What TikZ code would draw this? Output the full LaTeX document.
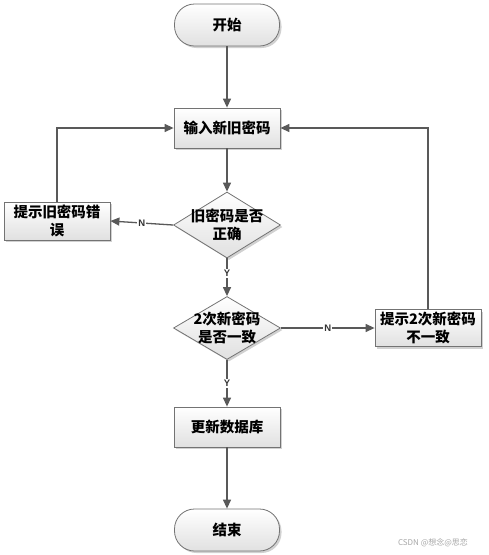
\documentclass[tikz,border=0pt]{standalone}
\usepackage{fontspec}
\setmainfont{Noto Sans CJK SC}
\newfontfamily\lblfont{Liberation Sans}
\usetikzlibrary{shapes.geometric,shadows,arrows.meta}

\tikzset{
    line/.style={draw=black!65, line width=1.3pt},
    arr/.style={line, -{Triangle[length=9pt,width=8pt]}},
    shade/.style={draw=black!55, line width=0.8pt, top color=white, bottom color=black!12,
        drop shadow={shadow xshift=2pt, shadow yshift=-2pt, fill=black!30, opacity=.6},
        font=\bfseries\fontsize{14.5}{17.5}\selectfont, align=center, inner sep=2pt},
    box/.style={shade, rectangle, minimum width=106pt, minimum height=40pt},
    term/.style={shade, rectangle, rounded corners=20pt, minimum width=105pt, minimum height=42pt},
    dia/.style={shade, diamond, minimum width=107pt, minimum height=66pt},
    yn/.style={fill=white, inner sep=1pt, font=\lblfont\bfseries\fontsize{9.5}{11}\selectfont, text=black!80}
}

\begin{document}
\begin{tikzpicture}[x=1pt,y=-1pt]
    \useasboundingbox (0,0) rectangle (488,555);

    \node[term] (start) at (227,25) {开始};
    \node[box] (input) at (227,128) {输入新旧密码};
    \node[dia] (q1) at (227,225) {\makebox[0pt]{旧密码是否}\\\makebox[0pt]{正确}};
    \node[box, minimum height=38pt] (err1) at (57,221) {提示旧密码错\\误};
    \node[dia, minimum height=63pt] (q2) at (227,328) {\makebox[0pt]{2次新密码}\\\makebox[0pt]{是否一致}};
    \node[box, minimum height=37pt] (err2) at (428,328) {提示2次新密码\\不一致};
    \node[box] (upd) at (227,427) {更新数据库};
    \node[term] (stop) at (227,530) {结束};

    \draw[arr] (start) -- (input);
    \draw[arr] (input) -- (q1);
    \draw[arr] (q1.west) -- node[yn] {N} (err1.east);
    \draw[arr] (err1.north) |- (input.west);
    \draw[arr] (q1.south) -- node[yn, pos=0.4] {Y} (q2.north);
    \draw[arr] (q2.east) -- node[yn] {N} (err2.west);
    \draw[arr] (err2.north) |- (input.east);
    \draw[arr] (q2.south) -- node[yn] {Y} (upd.north);
    \draw[arr] (upd) -- (stop);

    % watermark
    \node[text=black!35, font=\fontsize{8}{10}\selectfont] (mark) at (433,543) {CSDN @想念@思恋};
\end{tikzpicture}
\end{document}
